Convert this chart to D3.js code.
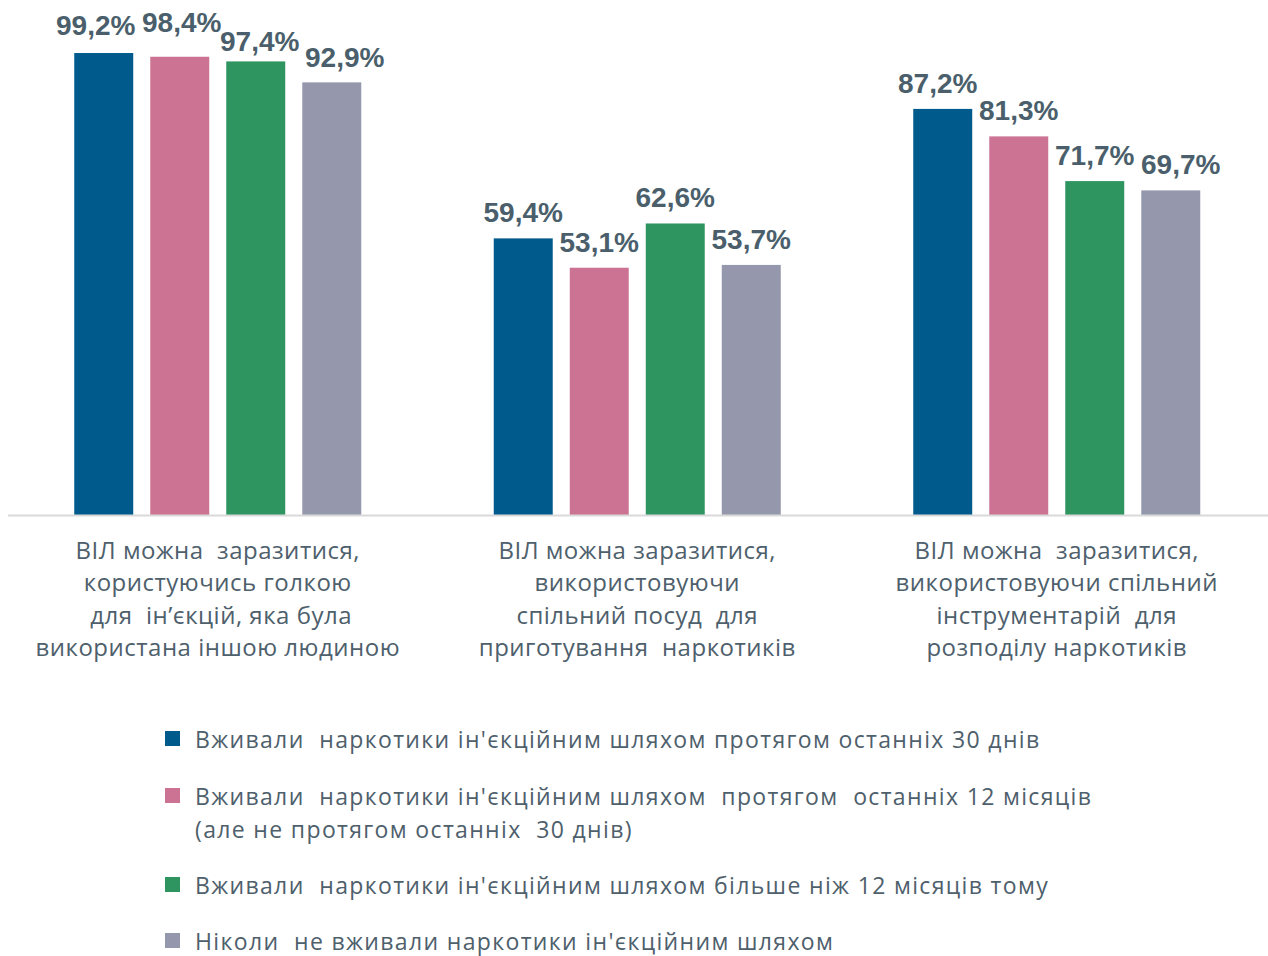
<!DOCTYPE html>
<html>
<head>
<meta charset="utf-8">
<script src="https://cdn.jsdelivr.net/npm/d3@7"></script>
<style>
    * { box-sizing: border-box; }
    html, body { margin: 0; padding: 0; background: #fff; }
    #vis { width: 1268px; height: 956px; }
    text { white-space: pre; }
</style>
</head>
<body>
<div id="vis"></div>
<script>
// categories (x axis), each label split into lines
var categories = ["g1", "g2", "g3"];
var categoryLines = [
    ["ВІЛ можна  заразитися,", "користуючись голкою", " для  ін\u2019єкцій, яка була", "використана іншою людиною"],
    ["ВІЛ можна заразитися,", "використовуючи", "спільний посуд  для", "приготування  наркотиків"],
    ["ВІЛ можна  заразитися,", "використовуючи спільний", "інструментарій  для", "розподілу наркотиків"]
];

// series
var seriesNames = [
    ["Вживали  наркотики ін'єкційним шляхом протягом останніх 30 днів"],
    ["Вживали  наркотики ін'єкційним шляхом  протягом  останніх 12 місяців", "(але не протягом останніх  30 днів)"],
    ["Вживали  наркотики ін'єкційним шляхом більше ніж 12 місяців тому"],
    ["Ніколи  не вживали наркотики ін'єкційним шляхом"]
];
var s30days = [99.2, 59.4, 87.2];
var s12months = [98.4, 53.1, 81.3];
var sOver12 = [97.4, 62.6, 71.7];
var sNever = [92.9, 53.7, 69.7];

var colors = ["#005b8c", "#cc7393", "#2e9460", "#9598ad"];
var seriesValues = [s30days, s12months, sOver12, sNever];

// label nudges for the crowded first group (dx, dy in px)
var labelNudge = {
    "0-0": [-8, -2], "0-1": [2, -9], "0-2": [4, 6], "0-3": [13, 1],
    "2-0": [-5, 0], "2-3": [10, 0]
};

var width = 1268, height = 956;
var baseline = 515;

var svg = d3.select("#vis")
    .append("svg")
    .attr("width", width)
    .attr("height", height);

var x0 = d3.scaleBand()
    .domain(categories)
    .range([8, 1266.5])
    .padding(0);

var groupWidth = 287;
var x1 = d3.scaleBand()
    .domain(d3.range(4))
    .range([0, groupWidth])
    .paddingInner(0.224)
    .paddingOuter(0);

var y = d3.scaleLinear()
    .domain([0, 100])
    .range([baseline, baseline - 465.7]);

// flatten to one row per bar
var bars = [];
categories.forEach(function (c, ci) {
    seriesValues.forEach(function (vals, si) {
        bars.push({ cat: c, ci: ci, si: si, value: vals[ci] });
    });
});

function barX(d) {
    return x0(d.cat) + (x0.bandwidth() - groupWidth) / 2 + x1(d.si);
}

svg.selectAll("rect.bar")
    .data(bars)
    .enter()
    .append("rect")
    .attr("class", "bar")
    .attr("x", barX)
    .attr("y", function (d) { return y(d.value); })
    .attr("width", x1.bandwidth())
    .attr("height", function (d) { return y(0) - y(d.value); })
    .attr("fill", function (d) { return colors[d.si]; });

// axis line
svg.append("line")
    .attr("x1", 8)
    .attr("x2", 1268)
    .attr("y1", baseline + 0.5)
    .attr("y2", baseline + 0.5)
    .attr("stroke", "#d9d9d9")
    .attr("stroke-width", 2);

// value labels
svg.selectAll("text.val")
    .data(bars)
    .enter()
    .append("text")
    .attr("class", "val")
    .attr("x", function (d) {
        var n = labelNudge[d.ci + "-" + d.si] || [0, 0];
        return barX(d) + x1.bandwidth() / 2 + n[0];
    })
    .attr("y", function (d) {
        var n = labelNudge[d.ci + "-" + d.si] || [0, 0];
        return y(d.value) - 16 + n[1];
    })
    .attr("text-anchor", "middle")
    .style("font-family", "Liberation Sans, Arial, sans-serif")
    .style("font-weight", "700")
    .style("font-size", "28px")
    .attr("fill", "#4a5f6b")
    .text(function (d) { return d.value.toFixed(1).replace(".", ",") + "%"; });

// category labels
var catG = svg.selectAll("g.cat")
    .data(categories)
    .enter()
    .append("g")
    .attr("class", "cat")
    .attr("transform", function (d) { return "translate(" + (x0(d) + x0.bandwidth() / 2) + ",0)"; });

catG.selectAll("text")
    .data(function (d, i) { return categoryLines[i]; })
    .enter()
    .append("text")
    .attr("x", 0)
    .attr("y", function (d, i) { return 559 + i * 32.4; })
    .attr("text-anchor", "middle")
    .style("font-family", "Open Sans, sans-serif")
    .style("font-size", "24px")
    .style("letter-spacing", "0.5px")
    .attr("fill", "#4e606c")
    .text(function (d) { return d; });

// legend
var legendRows = [748, 805, 894, 950];
var legend = svg.selectAll("g.leg")
    .data(seriesNames)
    .enter()
    .append("g")
    .attr("class", "leg")
    .attr("transform", function (d, i) { return "translate(165," + legendRows[i] + ")"; });

legend.append("rect")
    .attr("x", 0)
    .attr("y", -17)
    .attr("width", 15)
    .attr("height", 15)
    .attr("fill", function (d, i) { return colors[i]; });

legend.selectAll("text")
    .data(function (d) { return d; })
    .enter()
    .append("text")
    .attr("x", 30)
    .attr("y", function (d, i) { return i * 32.5; })
    .style("font-family", "Open Sans, sans-serif")
    .style("font-size", "23px")
    .style("letter-spacing", "1.35px")
    .attr("fill", "#4e606c")
    .text(function (d) { return d; });
</script>
</body>
</html>
